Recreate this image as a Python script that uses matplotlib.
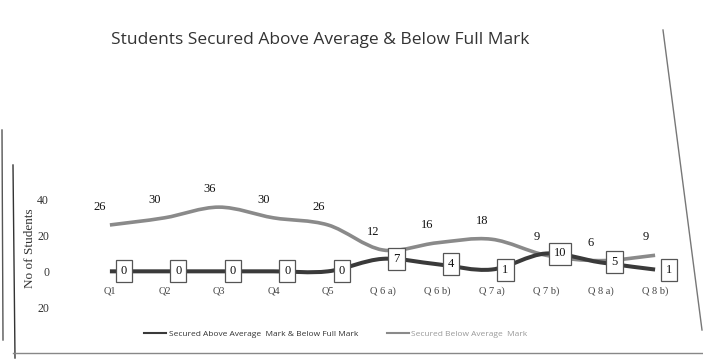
import matplotlib.pyplot as plt
from matplotlib.path import Path
from matplotlib.patches import PathPatch
from matplotlib.lines import Line2D

# data
questions = ['Q1', 'Q2', 'Q3', 'Q4', 'Q5', 'Q 6 a)', 'Q 6 b)', 'Q 7 a)', 'Q 7 b)', 'Q 8 a)', 'Q 8 b)']
above_avg = [0, 0, 0, 0, 0, 7, 4, 1, 10, 5, 1]
below_avg = [26, 30, 36, 30, 26, 12, 16, 18, 9, 6, 9]
name_above = 'Secured Above Average  Mark & Below Full Mark'
name_below = 'Secured Below Average  Mark'
title = 'Students Secured Above Average & Below Full Mark'

dark = '#3a3a3a'
light = '#8a8a8a'


def smooth_path(xs, ys):
    # excel-like smoothed line: bezier segments through the points
    verts = [(xs[0], ys[0])]
    codes = [Path.MOVETO]
    n = len(xs)
    for i in range(n - 1):
        x0, y0 = xs[max(i - 1, 0)], ys[max(i - 1, 0)]
        x1, y1 = xs[i], ys[i]
        x2, y2 = xs[i + 1], ys[i + 1]
        x3, y3 = xs[min(i + 2, n - 1)], ys[min(i + 2, n - 1)]
        verts += [(x1 + (x2 - x0) / 6, y1 + (y2 - y0) / 6),
                  (x2 - (x3 - x1) / 6, y2 - (y3 - y1) / 6),
                  (x2, y2)]
        codes += [Path.CURVE4] * 3
    return Path(verts, codes)


fig = plt.figure(figsize=(7.03, 3.59), dpi=100)
ax = fig.add_axes([99 / 703, 52 / 359, 567 / 703, 107 / 359])
x = list(range(len(questions)))

ax.add_patch(PathPatch(smooth_path(x, below_avg), fill=False, edgecolor=light, lw=2.6, capstyle='butt'))
ax.add_patch(PathPatch(smooth_path(x, above_avg), fill=False, edgecolor=dark, lw=2.9, capstyle='butt'))

for xi, v in zip(x, below_avg):
    ax.annotate(str(v), (xi, v), xytext=(-7, 13), textcoords='offset points',
                ha='center', va='center', fontsize=9, family='Liberation Serif',
                color='#111', annotation_clip=False)
for xi, v in zip(x, above_avg):
    ax.annotate(str(v), (xi, v), xytext=(10, 0), textcoords='offset points',
                ha='center', va='center', fontsize=9, family='Liberation Serif',
                color='#111', annotation_clip=False,
                bbox=dict(boxstyle='square,pad=0.4', fc='white', ec='#555', lw=0.9))

ax.set_xlim(-0.2, 10.2)
ax.set_ylim(-20, 40)
ax.set_yticks([-20, 0, 20, 40])
ax.set_yticklabels(['20', '0', '20', '40'])
ax.set_xticks(x)
ax.set_xticklabels(questions)
ax.spines['bottom'].set_position(('data', 0))
for s in ax.spines.values():
    s.set_visible(False)
ax.tick_params(axis='y', length=0, pad=36, labelsize=8.5, labelcolor='#333')
ax.tick_params(axis='x', length=0, pad=11, labelsize=7.5, labelcolor='#444')
for lab in ax.get_xticklabels() + ax.get_yticklabels():
    lab.set_family('Liberation Serif')

fig.text(30 / 703, 1 - 248 / 359, 'No of Students', rotation=90, ha='center', va='center',
         fontsize=9.5, family='Liberation Serif', color='#333')
fig.text(320 / 703, 1 - 40 / 359, title, ha='center', va='center',
         fontsize=12.5, family='Open Sans', color='#333')

handles = [Line2D([], [], color=dark, lw=1.5), Line2D([], [], color=light, lw=1.5)]
leg = fig.legend(handles, [name_above, name_below], loc='center', ncol=2,
                 bbox_to_anchor=(336 / 703, 1 - 334 / 359), frameon=False,
                 prop={'family': 'Open Sans', 'size': 6}, handlelength=2.6,
                 handletextpad=0.3, columnspacing=3.5)
leg.get_texts()[0].set_color('#333')
leg.get_texts()[1].set_color('#999')

# frame edges of the scanned page
for (x0, y0), (x1, y1), c in [((13, 165), (15, 358), '#333'), ((2, 130), (3, 340), '#555'),
                               ((663, 30), (702, 330), '#777'), ((13, 353), (703, 353), '#888')]:
    fig.add_artist(Line2D([x0 / 703, x1 / 703], [1 - y0 / 359, 1 - y1 / 359],
                          transform=fig.transFigure, color=c, lw=1))

fig.savefig('out.png', dpi=100)
